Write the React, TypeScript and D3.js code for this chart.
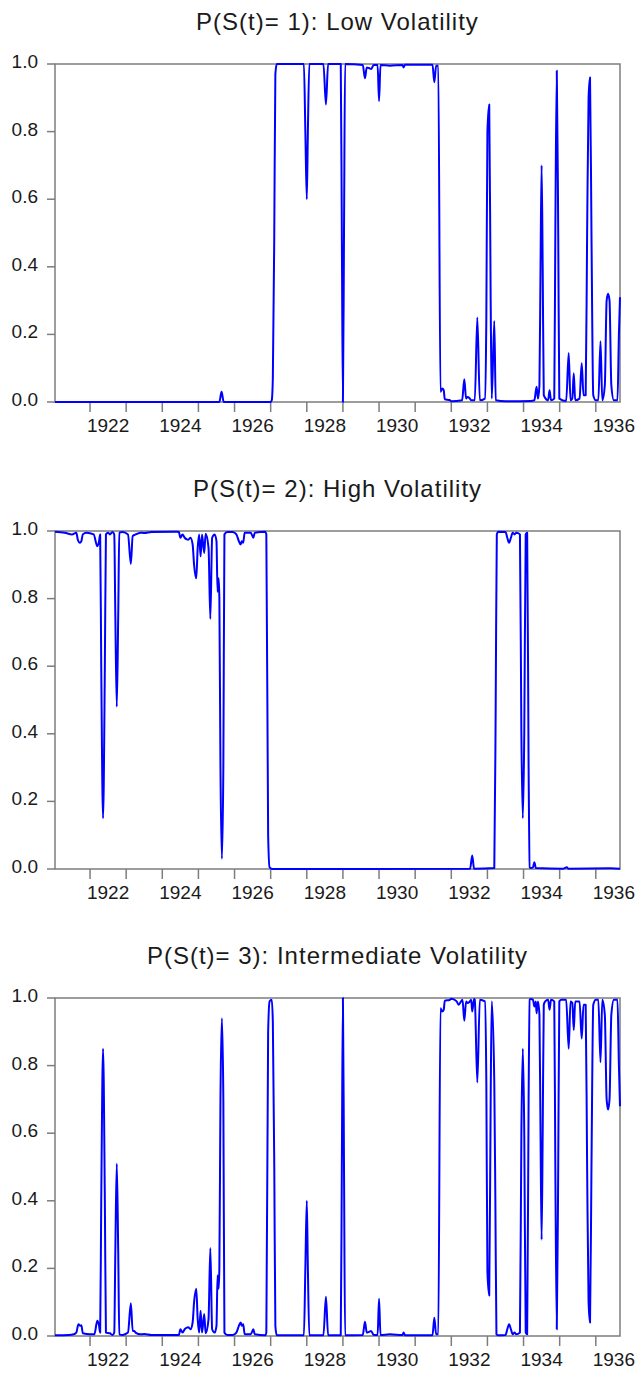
import React from "react";
import * as d3 from "d3";

// smoothed regime probabilities, weekly as [year, prob]
const lowVol: [number, number][] = [
  [1921.03, 0.0], [1925.58, 0.0], [1925.64, 0.03], [1925.7, 0.0],
  [1927.0, 0.0], [1927.03, 0.005], [1927.06, 0.07], [1927.1, 0.5], [1927.13, 0.97], [1927.17, 1.0],
  [1927.92, 1.0], [1927.96, 0.8], [1928.0, 0.6], [1928.03, 0.8], [1928.07, 1.0],
  [1928.46, 1.0], [1928.53, 0.88], [1928.59, 1.0],
  [1928.94, 1.0], [1928.97, 0.5], [1929.0, 0.0], [1929.03, 0.5], [1929.06, 1.0],
  [1929.55, 0.997], [1929.61, 0.958], [1929.66, 0.99], [1929.72, 0.988], [1929.78, 0.985], [1929.85, 0.997],
  [1929.96, 0.997], [1930.0, 0.89], [1930.04, 0.997],
  [1930.3, 0.995], [1930.65, 0.997], [1930.68, 0.99], [1930.72, 0.998],
  [1931.48, 0.998], [1931.53, 0.946], [1931.58, 0.995], [1931.64, 0.995],
  [1931.7, 0.03], [1931.75, 0.04], [1931.79, 0.035], [1931.82, 0.008],
  [1931.95, 0.006], [1932.0, 0.002], [1932.3, 0.005], [1932.36, 0.067], [1932.41, 0.01],
  [1932.45, 0.015], [1932.5, 0.012], [1932.55, 0.005], [1932.65, 0.005], [1932.72, 0.25], [1932.79, 0.005],
  [1932.93, 0.01], [1932.97, 0.25], [1933.0, 0.8], [1933.05, 0.88], [1933.09, 0.3], [1933.12, 0.01],
  [1933.19, 0.24], [1933.23, 0.005],
  [1933.5, 0.002], [1934.2, 0.003], [1934.3, 0.005], [1934.36, 0.045], [1934.4, 0.01],
  [1934.44, 0.05], [1934.47, 0.4], [1934.5, 0.7], [1934.53, 0.4], [1934.56, 0.02], [1934.68, 0.005],
  [1934.72, 0.035], [1934.76, 0.005],
  [1934.85, 0.01], [1934.88, 0.5], [1934.92, 0.98], [1934.96, 0.5], [1934.99, 0.01],
  [1935.18, 0.003], [1935.25, 0.145], [1935.3, 0.005], [1935.35, 0.01], [1935.39, 0.085], [1935.43, 0.005],
  [1935.55, 0.01], [1935.61, 0.115], [1935.66, 0.02], [1935.72, 0.02], [1935.76, 0.5], [1935.8, 0.9],
  [1935.84, 0.96], [1935.88, 0.5], [1935.93, 0.02],
  [1936.0, 0.005], [1936.07, 0.005], [1936.13, 0.18], [1936.18, 0.005], [1936.25, 0.05], [1936.3, 0.3],
  [1936.34, 0.32], [1936.38, 0.3], [1936.43, 0.05], [1936.5, 0.005], [1936.6, 0.005], [1936.64, 0.2],
  [1936.67, 0.31],
];

const highVol: [number, number][] = [
  [1921.03, 0.998], [1921.3, 0.995], [1921.5, 0.99], [1921.62, 0.995], [1921.66, 0.975], [1921.72, 0.965],
  [1921.76, 0.97], [1921.8, 0.99], [1921.9, 0.995], [1922.1, 0.99], [1922.2, 0.955], [1922.25, 0.97],
  [1922.28, 0.99], [1922.31, 0.6], [1922.36, 0.15], [1922.41, 0.6], [1922.44, 0.99],
  [1922.5, 0.995], [1922.55, 0.99], [1922.62, 0.997], [1922.67, 0.99], [1922.7, 0.75], [1922.74, 0.48],
  [1922.78, 0.75], [1922.81, 0.995], [1922.9, 0.997], [1923.05, 0.99], [1923.13, 0.903], [1923.18, 0.985],
  [1923.26, 0.99], [1923.4, 0.995], [1923.5, 0.994], [1923.7, 0.997], [1924.4, 0.998], [1924.46, 0.997],
  [1924.5, 0.98], [1924.56, 0.99], [1924.62, 0.98], [1924.68, 0.975], [1924.72, 0.974], [1924.78, 0.98],
  [1924.84, 0.96], [1924.88, 0.9], [1924.94, 0.86], [1924.98, 0.95], [1925.02, 0.99], [1925.06, 0.925],
  [1925.1, 0.99], [1925.16, 0.935], [1925.2, 0.992], [1925.28, 0.95], [1925.33, 0.74], [1925.38, 0.98],
  [1925.45, 0.99], [1925.5, 0.97], [1925.53, 0.82], [1925.56, 0.86], [1925.58, 0.8], [1925.61, 0.3],
  [1925.65, 0.03], [1925.69, 0.3], [1925.72, 0.99],
  [1925.8, 0.997], [1925.95, 0.997], [1926.05, 0.99], [1926.12, 0.97], [1926.17, 0.96], [1926.2, 0.97],
  [1926.24, 0.965], [1926.28, 0.995], [1926.45, 0.995], [1926.52, 0.98], [1926.56, 0.995], [1926.85, 0.998],
  [1926.88, 0.99], [1926.93, 0.1], [1926.97, 0.005], [1927.05, 0.0],
  [1932.52, 0.001], [1932.58, 0.04], [1932.63, 0.001], [1933.19, 0.003], [1933.23, 0.5], [1933.26, 0.99],
  [1933.3, 0.998], [1933.5, 0.997], [1933.55, 0.98], [1933.6, 0.965], [1933.65, 0.98], [1933.7, 0.995],
  [1933.75, 0.99], [1933.8, 0.995], [1933.9, 0.99], [1933.94, 0.4], [1933.98, 0.15], [1934.02, 0.4],
  [1934.06, 0.99], [1934.1, 0.995], [1934.14, 0.3], [1934.17, 0.005], [1934.2, 0.003], [1934.26, 0.005],
  [1934.3, 0.02], [1934.34, 0.003], [1935.1, 0.001], [1935.2, 0.005], [1935.24, 0.001], [1936.4, 0.002],
  [1936.67, 0.001],
];

const interVol: [number, number][] = [
  [1921.03, 0.002], [1921.4, 0.003], [1921.55, 0.005], [1921.62, 0.01], [1921.68, 0.035], [1921.73, 0.03],
  [1921.76, 0.032], [1921.8, 0.008], [1922.0, 0.005], [1922.12, 0.005], [1922.2, 0.045], [1922.25, 0.03],
  [1922.28, 0.01], [1922.31, 0.4], [1922.36, 0.85], [1922.41, 0.4], [1922.44, 0.01], [1922.55, 0.008],
  [1922.62, 0.003], [1922.67, 0.01], [1922.7, 0.25], [1922.74, 0.51], [1922.78, 0.25], [1922.81, 0.005],
  [1922.9, 0.003], [1923.05, 0.01], [1923.13, 0.097], [1923.18, 0.015], [1923.22, 0.015], [1923.26, 0.01],
  [1923.4, 0.005], [1923.5, 0.006], [1923.7, 0.003], [1924.46, 0.003], [1924.5, 0.02], [1924.56, 0.01],
  [1924.62, 0.02], [1924.68, 0.025], [1924.72, 0.026], [1924.78, 0.02], [1924.84, 0.04], [1924.88, 0.1],
  [1924.94, 0.14], [1924.98, 0.05], [1925.02, 0.01], [1925.06, 0.075], [1925.1, 0.01], [1925.16, 0.065],
  [1925.2, 0.008], [1925.28, 0.05], [1925.33, 0.26], [1925.38, 0.02], [1925.45, 0.01], [1925.5, 0.03],
  [1925.53, 0.18], [1925.56, 0.14], [1925.58, 0.2], [1925.61, 0.7], [1925.65, 0.94], [1925.69, 0.7],
  [1925.72, 0.01], [1925.8, 0.003], [1925.95, 0.003], [1926.05, 0.01], [1926.12, 0.03], [1926.17, 0.04],
  [1926.2, 0.03], [1926.24, 0.035], [1926.28, 0.005], [1926.45, 0.005], [1926.52, 0.02], [1926.56, 0.005],
  [1926.85, 0.002], [1926.88, 0.01], [1926.93, 0.9], [1926.97, 0.99], [1927.03, 0.995], [1927.06, 0.93],
  [1927.1, 0.5], [1927.13, 0.03], [1927.17, 0.002],
  [1927.92, 0.002], [1927.96, 0.2], [1928.0, 0.4], [1928.03, 0.2], [1928.07, 0.002], [1928.46, 0.002],
  [1928.53, 0.116], [1928.59, 0.002], [1928.94, 0.002], [1928.97, 0.5], [1929.0, 1.0], [1929.03, 0.5],
  [1929.06, 0.002], [1929.55, 0.003], [1929.61, 0.042], [1929.66, 0.01],
  [1929.72, 0.012], [1929.78, 0.015], [1929.85, 0.003], [1929.96, 0.003], [1930.0, 0.11], [1930.04, 0.003],
  [1930.3, 0.005], [1930.65, 0.003], [1930.68, 0.01], [1930.72, 0.002], [1931.48, 0.002], [1931.53, 0.054],
  [1931.58, 0.005], [1931.64, 0.005], [1931.7, 0.97], [1931.75, 0.96], [1931.79, 0.965], [1931.82, 0.992],
  [1931.95, 0.994], [1932.0, 0.998], [1932.15, 0.99], [1932.2, 0.98], [1932.31, 0.995], [1932.36, 0.933],
  [1932.41, 0.99], [1932.45, 0.985], [1932.5, 0.988], [1932.55, 0.995], [1932.58, 0.96], [1932.63, 0.997],
  [1932.65, 0.995], [1932.72, 0.75], [1932.79, 0.995], [1932.93, 0.99], [1932.97, 0.75], [1933.0, 0.19],
  [1933.05, 0.12], [1933.09, 0.7], [1933.12, 0.99], [1933.19, 0.75], [1933.22, 0.4], [1933.25, 0.005],
  [1933.3, 0.002], [1933.5, 0.003], [1933.55, 0.02], [1933.6, 0.035], [1933.65, 0.02], [1933.7, 0.005],
  [1933.75, 0.01], [1933.8, 0.005], [1933.9, 0.01], [1933.94, 0.6], [1933.98, 0.85], [1934.02, 0.6],
  [1934.06, 0.01], [1934.1, 0.005], [1934.14, 0.7], [1934.17, 0.995], [1934.2, 0.997], [1934.26, 0.995],
  [1934.3, 0.975], [1934.34, 0.99], [1934.36, 0.955], [1934.4, 0.99], [1934.44, 0.95], [1934.47, 0.6],
  [1934.5, 0.285], [1934.53, 0.6], [1934.56, 0.98], [1934.6, 0.99], [1934.68, 0.995], [1934.72, 0.965],
  [1934.76, 0.995], [1934.85, 0.99], [1934.88, 0.5], [1934.92, 0.02], [1934.96, 0.5], [1934.99, 0.99],
  [1935.05, 0.995], [1935.18, 0.995], [1935.25, 0.85], [1935.3, 0.99],
  [1935.35, 0.985], [1935.39, 0.905], [1935.43, 0.99], [1935.55, 0.99], [1935.61, 0.88], [1935.66, 0.98],
  [1935.72, 0.98], [1935.76, 0.5], [1935.8, 0.1], [1935.84, 0.04], [1935.88, 0.5], [1935.93, 0.98],
  [1936.0, 0.995], [1936.07, 0.995], [1936.13, 0.81], [1936.18, 0.995], [1936.25, 0.95], [1936.3, 0.7],
  [1936.34, 0.67], [1936.38, 0.7], [1936.43, 0.95], [1936.5, 0.995], [1936.6, 0.995], [1936.64, 0.8],
  [1936.67, 0.68],
];

const titles = [
  "P(S(t)= 1): Low Volatility",
  "P(S(t)= 2): High Volatility",
  "P(S(t)= 3): Intermediate Volatility",
];
const yTicks = [0.0, 0.2, 0.4, 0.6, 0.8, 1.0];
const yearTicks = [1922, 1923, 1924, 1925, 1926, 1927, 1928, 1929, 1930, 1931, 1932, 1933, 1934, 1935, 1936];
const yearLabels = [1922, 1924, 1926, 1928, 1930, 1932, 1934, 1936];

const W = 638;
const H = 1374;
const left = 55;
const right = 620;
const firstTop = 64;
const panelStep = 467;
const panelH = 338;
const font = "'Liberation Sans', Arial, Helvetica, sans-serif";
const axisColor = "#7d7d7d";

const x = d3.scaleLinear().domain([1921.03, 1936.67]).range([left, right]);

const Panel = ({ idx, title, data }: { idx: number; title: string; data: [number, number][] }) => {
  const top = firstTop + idx * panelStep;
  const bottom = top + panelH;
  const y = d3.scaleLinear().domain([0, 1]).range([bottom, top]);
  const line = d3
    .line<[number, number]>()
    .x((d) => x(d[0]))
    .y((d) => y(d[1]))
    .curve(d3.curveMonotoneX);
  const fmt = d3.format(".1f");

  return (
    <g>
      <text
        x={(left + right) / 2}
        y={top - 34}
        textAnchor="middle"
        fontSize={24}
        letterSpacing={1}
        fill="#1a1a1a"
        fontFamily={font}
      >
        {title}
      </text>
      <rect x={left} y={top} width={right - left} height={panelH} fill="#fff" stroke={axisColor} strokeWidth={1.5} />
      {yTicks.map((t) => (
        <g key={t}>
          <line x1={left - 8} x2={left} y1={y(t)} y2={y(t)} stroke={axisColor} strokeWidth={1.5} />
          <text x={38} y={y(t) + 4} textAnchor="end" fontSize={19} fill="#1a1a1a" fontFamily={font}>
            {fmt(t)}
          </text>
        </g>
      ))}
      {yearTicks.map((yr) => (
        <line key={yr} x1={x(yr)} x2={x(yr)} y1={bottom} y2={bottom + 10} stroke={axisColor} strokeWidth={1.5} />
      ))}
      {yearLabels.map((yr) => (
        <text key={yr} x={x(yr + 0.5)} y={bottom + 30} textAnchor="middle" fontSize={19} fill="#1a1a1a" fontFamily={font}>
          {yr}
        </text>
      ))}
      <path d={line(data) || ""} fill="none" stroke="#0000ff" strokeWidth={2} strokeLinejoin="round" />
    </g>
  );
};

export default function App() {
  const series = [lowVol, highVol, interVol];
  return (
    <svg
      width={W}
      height={H}
      viewBox={`0 0 ${W} ${H}`}
      style={{ position: "absolute", left: 0, top: 0, display: "block", background: "#fff" }}
    >
      <rect width={W} height={H} fill="#fff" />
      {titles.map((t, i) => (
        <Panel key={t} idx={i} title={t} data={series[i]} />
      ))}
    </svg>
  );
}
